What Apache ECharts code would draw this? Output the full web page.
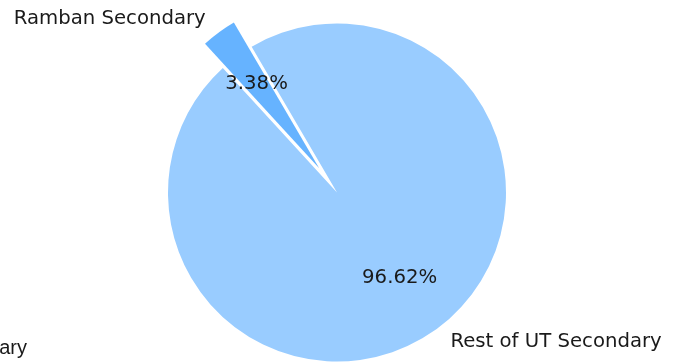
<!DOCTYPE html>
<html>
<head>
<meta charset="utf-8">
<script src="https://cdn.jsdelivr.net/npm/echarts@6/dist/echarts.min.js"></script>
<style>html,body{margin:0;padding:0;background:#fff}#c{width:675px;height:362px}</style>
</head>
<body>
<div id="c"></div>
<script>
const categories = ['Ramban Secondary', 'Rest of UT Secondary'];
const shares = [3.38, 96.62];
const sliceColors = ['#66b3ff', '#99ccff'];
const exploded = [true, false];
const cutLabel = 'Secondary';

const chart = echarts.init(document.getElementById('c'), null, {renderer: 'canvas'});
const font = 'DejaVu Sans';
const fs = 19.7;
const center = [337, 192.5];
const R = 169;
const startAngle = 132.5;

const mkData = (withColor) => categories.map((n, i) => ({
  name: n, value: shares[i], selected: exploded[i],
  itemStyle: withColor ? {color: sliceColors[i]} : {color: 'rgba(0,0,0,0)'}
}));

chart.setOption({
  animation: false,
  series: [
    {
      type: 'pie', center: center, radius: [0, R], startAngle: startAngle, clockwise: true,
      selectedMode: 'single', selectedOffset: 30, avoidLabelOverlap: false,
      emphasis: {scale: false}, silent: true,
      label: {show: true, position: 'outside', formatter: '{b}', fontFamily: font, fontSize: fs, color: '#1a1a1a', distanceToLabelLine: 3},
      labelLine: {show: false, length: 17, length2: 0},
      itemStyle: {borderWidth: 0},
      data: mkData(true)
    },
    {
      type: 'pie', center: center, radius: [36, R], startAngle: startAngle, clockwise: true,
      selectedMode: 'single', selectedOffset: 30, avoidLabelOverlap: false,
      emphasis: {scale: false}, silent: true,
      label: {show: true, position: 'inside', formatter: '{d}%', fontFamily: font, fontSize: fs, color: '#1a1a1a'},
      labelLine: {show: false},
      itemStyle: {borderWidth: 0},
      data: mkData(false)
    }
  ],
  graphic: [{
    type: 'text', x: 27, y: 348,
    style: {text: cutLabel, textAlign: 'right', textVerticalAlign: 'middle', font: '20px "Liberation Sans"', fill: '#1a1a1a'}
  }]
});
</script>
</body>
</html>
